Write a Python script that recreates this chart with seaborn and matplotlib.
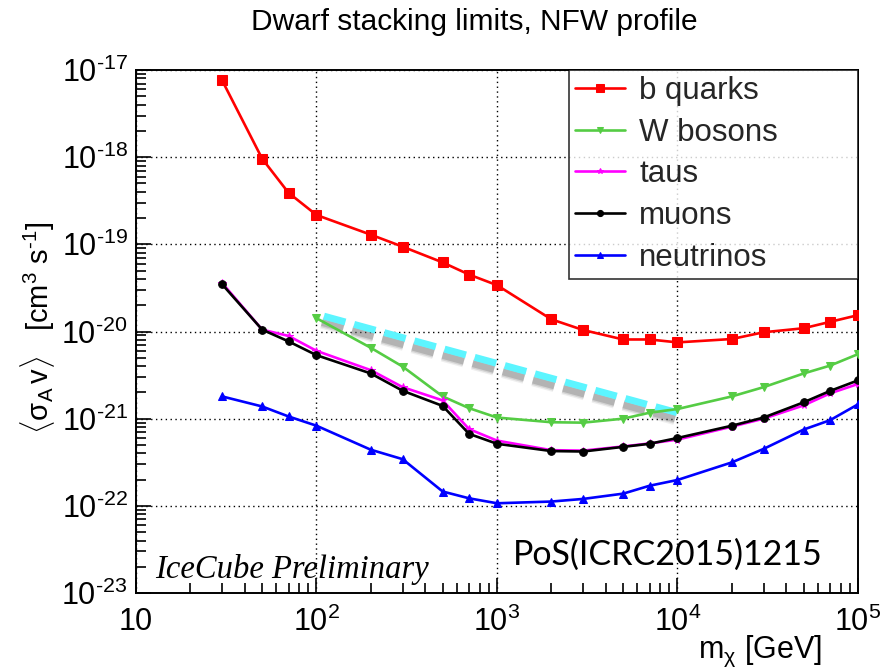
import numpy as np
import pandas as pd
import seaborn as sns
import matplotlib
matplotlib.use("Agg")
import matplotlib.pyplot as plt
import matplotlib.patheffects as pe
from matplotlib.ticker import LogLocator, FixedLocator, FuncFormatter, NullFormatter

# WIMP mass points [GeV]
mass = [30, 50, 70, 100, 200, 300, 500, 700, 1000, 2000, 3000,
        5000, 7000, 10000, 20000, 30000, 50000, 70000, 100000]

# 90% C.L. upper limits on <sigma_A v> [cm^3 s^-1], per annihilation channel
b_quarks = [7.6e-18, 9.6e-19, 3.9e-19, 2.17e-19, 1.29e-19, 9.4e-20, 6.2e-20,
            4.5e-20, 3.4e-20, 1.38e-20, 1.04e-20, 8.1e-21, 8.1e-21, 7.5e-21,
            8.2e-21, 9.8e-21, 1.09e-20, 1.29e-20, 1.54e-20]
w_mass = mass[3:]
w_bosons = [1.42e-20, 6.5e-21, 3.96e-21, 1.8e-21, 1.32e-21, 1.03e-21, 9.1e-22,
            9.0e-22, 1.0e-21, 1.17e-21, 1.29e-21, 1.8e-21, 2.3e-21, 3.3e-21,
            4.06e-21, 5.5e-21]
taus = [3.6e-20, 1.05e-20, 8.9e-21, 6.0e-21, 3.6e-21, 2.3e-21, 1.62e-21,
        7.6e-22, 5.6e-22, 4.35e-22, 4.3e-22, 4.8e-22, 5.2e-22, 5.75e-22,
        8.1e-22, 1.0e-21, 1.42e-21, 1.95e-21, 2.5e-21]
muons = [3.48e-20, 1.05e-20, 7.7e-21, 5.35e-21, 3.3e-21, 2.09e-21, 1.4e-21,
         6.7e-22, 5.15e-22, 4.25e-22, 4.2e-22, 4.75e-22, 5.15e-22, 6.0e-22,
         8.3e-22, 1.03e-21, 1.54e-21, 2.08e-21, 2.75e-21]
neutrinos = [1.8e-21, 1.38e-21, 1.06e-21, 8.3e-22, 4.4e-22, 3.43e-22, 1.46e-22,
             1.22e-22, 1.07e-22, 1.12e-22, 1.2e-22, 1.38e-22, 1.7e-22, 1.98e-22,
             3.15e-22, 4.5e-22, 7.5e-22, 9.6e-22, 1.46e-21]

# reference sensitivity line (dashed)
ref_mass = [110, 10000]
ref_limit = [1.5e-20, 1.17e-21]

x_ticks = [10, 100, 1000, 10000, 100000]
y_ticks = [1e-23, 1e-22, 1e-21, 1e-20, 1e-19, 1e-18, 1e-17]

sns.set_theme(style="ticks")
plt.rcParams["font.family"] = ["Liberation Sans", "DejaVu Sans"]
plt.rcParams["mathtext.fontset"] = "custom"
plt.rcParams["mathtext.rm"] = "Liberation Sans"
plt.rcParams["mathtext.it"] = "Liberation Sans:italic"
plt.rcParams["mathtext.sf"] = "Liberation Sans"

fig = plt.figure(figsize=(8.87, 6.71), dpi=100)
fig.patch.set_facecolor("white")
ax = fig.add_axes([136 / 887, 1 - 593 / 671, 722 / 887, 523 / 671])
ax.set_facecolor("white")
ax.set_xscale("log")
ax.set_yscale("log")
ax.set_xlim(10, 1e5)
ax.set_ylim(1e-23, 1e-17)

series = [
    ("b quarks", mass, b_quarks, "#ff0000", "s", 6.5),
    ("W bosons", w_mass, w_bosons, "#55cc44", "v", 6.0),
    ("taus", mass, taus, "#ff00ff", "*", 5.5),
    ("muons", mass, muons, "#000000", "o", 5.5),
    ("neutrinos", mass, neutrinos, "#0000ff", "^", 6.0),
]

for i, (name, xs, ys, col, mk, ms) in enumerate(series):
    df = pd.DataFrame({"m": xs, "sv": ys})
    sns.lineplot(data=df, x="m", y="sv", ax=ax, color=col, marker=mk,
                 markersize=ms, markeredgecolor=col, linewidth=1.9,
                 label=name, zorder=3 + i)

# dashed reference line with soft drop shadow
shadow = [pe.SimpleLineShadow(offset=(-1.5, -4.5), shadow_color="#606060",
                              alpha=a, linewidth=w)
          for a, w in [(0.10, 9), (0.18, 7), (0.28, 5)]]
ref_df = pd.DataFrame({"m": ref_mass, "sv": ref_limit})
sns.lineplot(data=ref_df, x="m", y="sv", ax=ax, color="#5cf5ff",
             linewidth=5, linestyle=(0, (3.2, 1.3)), legend=False,
             path_effects=shadow + [pe.Normal()], zorder=2)

# axes, ticks, grid
ax.xaxis.set_major_locator(FixedLocator(x_ticks))
ax.xaxis.set_minor_locator(LogLocator(base=10, subs=np.arange(2, 10)))
ax.yaxis.set_major_locator(FixedLocator(y_ticks))
ax.yaxis.set_minor_locator(LogLocator(base=10, subs=np.arange(2, 10), numticks=20))
ax.xaxis.set_minor_formatter(NullFormatter())
ax.yaxis.set_minor_formatter(NullFormatter())


def xfmt(v, pos):
    e = int(round(np.log10(v)))
    return "10" if e == 1 else r"10$^{\text{%d}}$" % e


def yfmt(v, pos):
    e = int(round(np.log10(v)))
    return r"10$^{\text{%d}}$" % e


ax.xaxis.set_major_formatter(FuncFormatter(xfmt))
ax.yaxis.set_major_formatter(FuncFormatter(yfmt))
ax.tick_params(which="both", direction="in", top=False, right=False,
               labelsize=22, width=1.2, color="black", labelcolor="black")
ax.tick_params(axis="y", which="major", length=11, pad=6)
ax.tick_params(axis="y", which="minor", length=7)
ax.tick_params(axis="x", which="major", length=11, pad=10)
ax.tick_params(axis="x", which="minor", length=7)
ax.grid(True, which="major", color="black", linestyle=(0, (1, 2.5)), linewidth=1.0)
for s in ax.spines.values():
    s.set_color("black")
    s.set_linewidth(1.4)

ax.set_xlabel("")
ax.set_ylabel("")

# legend
leg_top = 1 - 70 / 671
leg = ax.legend(loc="upper left",
                bbox_to_anchor=(569 / 887, leg_top - 0.01, 289 / 887, 0.01),
                bbox_transform=fig.transFigure, mode="expand", fontsize=22.5,
                frameon=True, fancybox=False, borderaxespad=0, borderpad=0.2,
                labelspacing=0.37, handlelength=1.6, handletextpad=0.45,
                markerscale=0.8)
leg.get_frame().set_edgecolor("black")
leg.get_frame().set_linewidth(1.2)
leg.set_zorder(20)

# titles and labels
fig.text(0.535, 1 - 22 / 671, "Dwarf stacking limits, NFW profile", ha="center",
         va="center", fontsize=21.5, color="black")
fig.text(38 / 887, 1 - 328 / 671,
         r"$\langle\mathrm{\sigma_{A}\,v}\rangle$   [cm$^{3}$ s$^{\text{-1}}$]",
         rotation=90, ha="center", va="center", fontsize=21, color="black")
fig.text(822 / 887, 1 - 658 / 671, r"m$_{\mathrm{\chi}}$ [GeV]", ha="right",
         va="baseline", fontsize=22, color="black")
ax.text(155 / 887, 1 - 578 / 671, "IceCube Preliminary", transform=fig.transFigure,
        ha="left", va="baseline", fontsize=23.5, style="italic",
        family=["Liberation Serif", "DejaVu Serif"], color="black")
ax.text(513 / 887, 1 - 565 / 671, "PoS(ICRC2015)1215", transform=fig.transFigure,
        ha="left", va="baseline", fontsize=24.5, family=["Lato", "DejaVu Sans"],
        color="black")

fig.savefig("out.png", dpi=100, facecolor="white")
